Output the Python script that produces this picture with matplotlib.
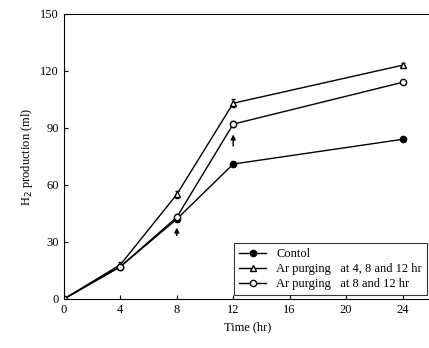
import matplotlib
matplotlib.use("Agg")
import matplotlib.pyplot as plt

time = [0, 4, 8, 12, 24]
control = [0, 17, 42, 71, 84]
ar_4_8_12 = [0, 18, 55, 103, 123]
ar_8_12 = [0, 17, 43, 92, 114]
err_4_8_12 = [0, 1.5, 2, 2, 1]
err_8_12 = [0, 1, 1.5, 1.5, 1]
err_control = [0, 1, 1, 1, 1]

plt.rcParams['font.family'] = ['Liberation Serif', 'DejaVu Serif']

fig = plt.figure(figsize=(4.29, 3.48), dpi=100)
ax = fig.add_axes([0.149, 0.141, 0.855, 0.819])

series = [
    (control, err_control, 'o', 'black', 'Contol'),
    (ar_4_8_12, err_4_8_12, '^', 'white', 'Ar purging   at 4, 8 and 12 hr'),
    (ar_8_12, err_8_12, 'o', 'white', 'Ar purging   at 8 and 12 hr'),
]
for vals, errs, mk, fc, lab in series:
    ax.errorbar(time, vals, yerr=errs, fmt='none', ecolor='black', lw=0.8, capsize=1.5)
    ax.plot(time, vals, color='black', marker=mk, ms=4.5, mfc=fc, mec='black',
            lw=1, label=lab)

for xa, y0, y1 in [(8, 32, 39), (12, 79, 88)]:
    ax.annotate('', xy=(xa, y1), xytext=(xa, y0),
                arrowprops=dict(arrowstyle='-|>', color='black', lw=1,
                                mutation_scale=7))

ax.set_xlim(0, 26)
ax.set_ylim(0, 150)
ax.set_xticks([0, 4, 8, 12, 16, 20, 24])
ax.set_yticks([0, 30, 60, 90, 120, 150])
ax.tick_params(direction='in', labelsize=9, length=3)
ax.spines['right'].set_visible(False)
ax.set_xlabel('Time (hr)', fontsize=9)
ax.set_ylabel('H$_2$ production (ml)', fontsize=9)

leg = ax.legend(loc='lower right', fontsize=9, frameon=True, fancybox=False,
                edgecolor='black', handlelength=2.2, borderaxespad=0.3,
                labelspacing=0.25, borderpad=0.4)
leg.get_frame().set_linewidth(0.8)

fig.savefig('out.png', dpi=100)
